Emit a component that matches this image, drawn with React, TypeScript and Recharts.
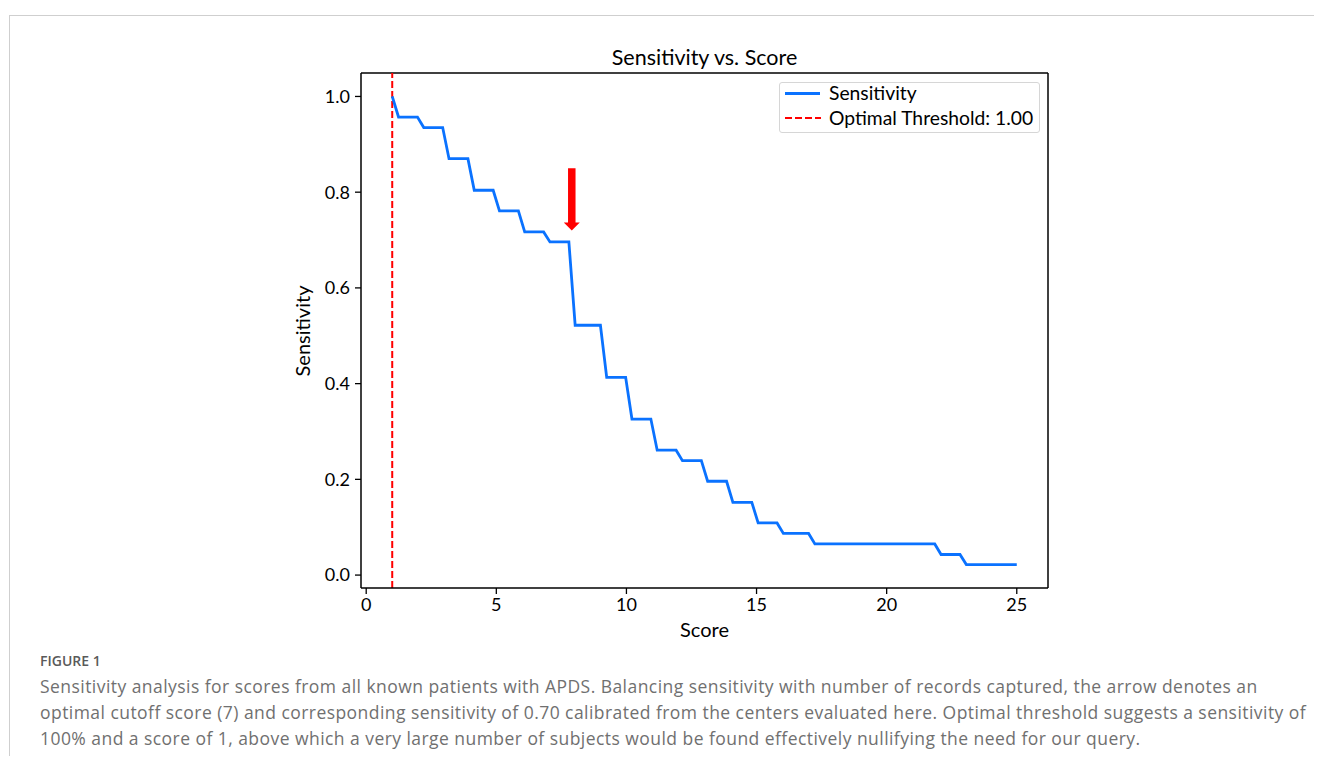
import React from 'react'
import { LineChart, Line, XAxis, YAxis, ReferenceLine } from 'recharts'

// Vertices of the sensitivity curve (score threshold -> sensitivity)
const scores = [
  1, 1.242, 1.97, 2.212, 2.939, 3.182, 3.909, 4.152, 4.879, 5.121,
  5.848, 6.091, 6.818, 7.061, 7.788, 8.03, 9.0, 9.242, 9.97, 10.212,
  10.939, 11.182, 11.909, 12.152, 12.879, 13.121, 13.848, 14.091, 14.818, 15.061,
  15.788, 16.03, 17.0, 17.242, 21.848, 22.091, 22.818, 23.061, 25.0,
]
const sensitivity = [
  1.0, 0.957, 0.957, 0.935, 0.935, 0.87, 0.87, 0.804, 0.804, 0.761,
  0.761, 0.717, 0.717, 0.696, 0.696, 0.522, 0.522, 0.413, 0.413, 0.326,
  0.326, 0.261, 0.261, 0.239, 0.239, 0.196, 0.196, 0.152, 0.152, 0.109,
  0.109, 0.087, 0.087, 0.065, 0.065, 0.043, 0.043, 0.022, 0.022,
]
const xTicks = [0, 5, 10, 15, 20, 25]
const yTicks = [0, 0.2, 0.4, 0.6, 0.8, 1.0]
const xDomain = [-0.2, 26.2]
const yDomain = [-0.027, 1.049]
const optimalThreshold = 1.0
const arrowScore = 7.9
const arrowFrom = 0.85
const arrowTo = 0.72

const captionLines = [
  'Sensitivity analysis for scores from all known patients with APDS. Balancing sensitivity with number of records captured, the arrow denotes an',
  'optimal cutoff score (7) and corresponding sensitivity of 0.70 calibrated from the centers evaluated here. Optimal threshold suggests a sensitivity of',
  '100% and a score of 1, above which a very large number of subjects would be found effectively nullifying the need for our query.',
]

const rows = scores.map((s, i) => ({ score: s, sensitivity: sensitivity[i] }))

const plotFont = 'Lato, "Open Sans", sans-serif'
const BLUE = '#0a72ff'

// draws a filled downward arrow between the segment's two points
const ArrowShape = (props: any) => {
  const { x1, y1, x2, y2 } = props
  const shaft = 7.5
  const headW = 16
  const headLen = 8
  const x = (x1 + x2) / 2
  const top = Math.min(y1, y2)
  const tip = Math.max(y1, y2)
  const base = tip - headLen
  const pts = [
    [x - shaft / 2, top], [x + shaft / 2, top], [x + shaft / 2, base],
    [x + headW / 2, base], [x, tip], [x - headW / 2, base], [x - shaft / 2, base],
  ].map(p => p.join(',')).join(' ')
  return <polygon points={pts} fill="#ff0000" stroke="none" />
}

export default function App() {
  return (
    // cancel the body margin so the page is covered edge to edge
    <div style={{ position: 'relative', margin: -8, width: 1322, height: 764, overflow: 'hidden', background: '#fff' }}>
      <div style={{ position: 'absolute', left: 8, top: 8, width: 1306, height: 748, fontFamily: plotFont }}>
        {/* card outline */}
        <div style={{
          position: 'absolute', left: 1, top: 7, width: 1330, height: 760,
          borderLeft: '1.5px solid #cfcfcf', borderTop: '1.5px solid #cfcfcf',
        }} />

        <div style={{ position: 'absolute', left: 0, top: 0 }}>
          <LineChart width={1100} height={640} data={rows}
            margin={{ top: 65, right: 60, bottom: 20, left: 293 }}>
            <XAxis dataKey="score" type="number" domain={xDomain} ticks={xTicks}
              allowDataOverflow height={40} tickSize={6} tickMargin={4}
              axisLine={{ stroke: '#000', strokeWidth: 1.5 }}
              tickLine={{ stroke: '#000', strokeWidth: 1.3 }}
              tick={{ fill: '#000', fontSize: 18, fontFamily: plotFont }} />
            <YAxis type="number" domain={yDomain} ticks={yTicks}
              allowDataOverflow width={60} tickSize={6} tickMargin={5}
              tickFormatter={(v: number) => v.toFixed(1)}
              axisLine={{ stroke: '#000', strokeWidth: 1.5 }}
              tickLine={{ stroke: '#000', strokeWidth: 1.3 }}
              tick={{ fill: '#000', fontSize: 18, fontFamily: plotFont }} />

            {/* top and right sides of the axes box */}
            <ReferenceLine y={yDomain[1]} stroke="#000" strokeWidth={1.5} />
            <ReferenceLine x={xDomain[1]} stroke="#000" strokeWidth={1.5} />

            <ReferenceLine x={optimalThreshold} stroke="#ff0000" strokeWidth={2}
              strokeDasharray="7 3" />
            <Line type="linear" dataKey="sensitivity" stroke={BLUE} strokeWidth={2.8}
              dot={false} activeDot={false} isAnimationActive={false} />
            <ReferenceLine segment={[{ x: arrowScore, y: arrowFrom }, { x: arrowScore, y: arrowTo }]}
              shape={ArrowShape} />
          </LineChart>
        </div>

        {/* title and axis labels */}
        <div style={{ position: 'absolute', left: 496.5, top: 37, width: 400, lineHeight: '24px',
          textAlign: 'center', fontSize: 21.5, color: '#000' }}>Sensitivity vs. Score</div>
        <div style={{ position: 'absolute', left: 496.5, top: 609, width: 400, lineHeight: '24px',
          textAlign: 'center', fontSize: 20, color: '#000' }}>Score</div>
        <div style={{ position: 'absolute', left: 194, top: 310.5, width: 200, height: 24, lineHeight: '24px',
          textAlign: 'center', fontSize: 20, color: '#000', transform: 'rotate(-90deg)' }}>Sensitivity</div>

        {/* legend */}
        <div style={{ position: 'absolute', left: 771, top: 74, width: 259, height: 49,
          border: '1px solid #d6d6d6', borderRadius: 3, background: 'rgba(255,255,255,0.85)',
          fontSize: 19.3, color: '#000' }}>
          <div style={{ position: 'absolute', left: 5, top: 9, width: 35, height: 0, borderTop: `3px solid ${BLUE}` }} />
          <div style={{ position: 'absolute', left: 49, top: -2, lineHeight: '24px', whiteSpace: 'nowrap' }}>Sensitivity</div>
          <svg style={{ position: 'absolute', left: 5, top: 33 }} width={36} height={4}>
            <line x1={0} y1={2} x2={36} y2={2} stroke="#ff0000" strokeWidth={2} strokeDasharray="7 3" />
          </svg>
          <div style={{ position: 'absolute', left: 49, top: 23, lineHeight: '24px', whiteSpace: 'nowrap' }}>Optimal Threshold: 1.00</div>
        </div>

        {/* caption */}
        <div style={{ position: 'absolute', left: 32, top: 643, lineHeight: '20px', fontSize: 14,
          fontWeight: 600, color: '#5a5a5a', fontFamily: '"Open Sans", sans-serif' }}>FIGURE 1</div>
        <div style={{ position: 'absolute', left: 32, top: 665, fontSize: 17.5, lineHeight: '26px',
          letterSpacing: '0.45px', color: '#707070', fontFamily: '"Open Sans", sans-serif', whiteSpace: 'nowrap' }}>
          {captionLines.map((l, i) => <div key={i}>{l}</div>)}
        </div>
      </div>
    </div>
  )
}
